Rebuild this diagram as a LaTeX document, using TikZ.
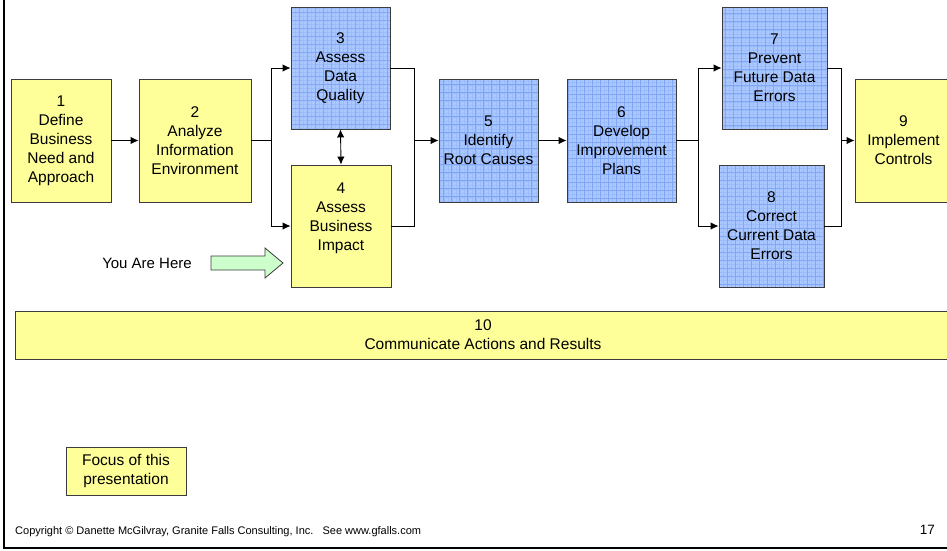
\documentclass[tikz,border=0pt]{standalone}
\usepackage{fontspec}
\setmainfont{Liberation Sans}
\usetikzlibrary{arrows.meta}

\definecolor{boxyellow}{RGB}{255,255,153}
\definecolor{boxblue}{RGB}{170,200,255}
\definecolor{gridmajor}{RGB}{128,166,245}
\definecolor{gridminor}{RGB}{156,189,252}
\definecolor{herefill}{RGB}{204,255,204}
\definecolor{boxline}{RGB}{60,60,60}

\tikzset{
  stepbox/.style={draw=boxline, line width=0.9pt, inner sep=0pt, align=center,
    font=\fontsize{15.5}{19}\selectfont},
  yellowbox/.style={stepbox, fill=boxyellow},
  bluebox/.style={stepbox, fill=boxblue,
    path picture={
      \draw[gridminor, line width=0.3pt, step=4pt]
        (path picture bounding box.south west) grid (path picture bounding box.north east);
      \draw[gridmajor, line width=0.6pt, step=8pt]
        (path picture bounding box.south west) grid (path picture bounding box.north east);
    }},
  link/.style={line width=0.9pt},
  arr/.style={link, -{Latex[length=8pt,width=7.5pt]}},
  dblarr/.style={link, {Latex[length=8pt,width=7.5pt]}-{Latex[length=8pt,width=7.5pt]}},
}

\begin{document}
\begin{tikzpicture}[x=1pt, y=-1pt]
  \useasboundingbox (0,0) rectangle (947,550);
  \fill[white] (0,0) rectangle (947,550);

  % slide frame (left and bottom edges)
  \draw[line width=2.6pt] (4,0) -- (4,548) -- (950,548);

  % process steps
  \node[yellowbox, minimum width=100pt, minimum height=123pt] (n1) at (61,140.5)
    {1\\Define\\Business\\Need and\\Approach};
  \node[yellowbox, minimum width=112pt, minimum height=123pt] (n2) at (195,140.5)
    {2\\Analyze\\Information\\Environment};
  \node[bluebox, minimum width=99pt, minimum height=122pt] (n3) at (340.5,68)
    {3\\Assess\\Data\\Quality};
  \node[yellowbox, minimum width=100pt, minimum height=122pt] (n4) at (341,226)
    {4\\Assess\\Business\\Impact\\\mbox{}};
  \node[bluebox, minimum width=99pt, minimum height=123pt] (n5) at (488.5,140.5)
    {5\\Identify\\Root Causes};
  \node[bluebox, minimum width=109pt, minimum height=123pt] (n6) at (621.5,140.5)
    {6\\Develop\\Improvement\\Plans};
  \node[bluebox, minimum width=105pt, minimum height=122pt] (n7) at (774.5,68)
    {7\\Prevent\\Future Data\\Errors};
  \node[bluebox, minimum width=105pt, minimum height=122pt] (n8) at (771.5,226)
    {8\\Correct\\Current Data\\Errors};
  \node[yellowbox, minimum width=97pt, minimum height=123pt] (n9) at (903.5,140.5)
    {9\\Implement\\Controls};
  \node[yellowbox, minimum width=936pt, minimum height=48pt] (n10) at (483,335)
    {10\\Communicate Actions and Results};

  % connectors
  \draw[arr] (n1) -- (n2);
  \coordinate (s2) at (271,140.5);
  \draw[link] (n2.east) -- (s2);
  \draw[arr] (s2) |- (n3.west);
  \draw[arr] (s2) |- (n4.west);
  \draw[dblarr] (n3.south) -- (n4.north);
  \coordinate (j34) at (414,140.5);
  \draw[link] (n3.east) -| (j34);
  \draw[link] (n4.east) -| (j34);
  \draw[arr] (j34) -- (n5.west);
  \draw[arr] (n5) -- (n6);
  \coordinate (s6) at (698,140.5);
  \draw[link] (n6.east) -- (s6);
  \draw[arr] (s6) |- (n7.west);
  \draw[arr] (s6) |- (n8.west);
  \coordinate (j78) at (841,140.5);
  \draw[link] (n7.east) -| (j78);
  \draw[link] (n8.east) -| (j78);
  \draw[arr] (j78) -- (n9.west);

  % "You Are Here" marker
  \node[font=\fontsize{15}{18}\selectfont] (here) at (147,263) {You Are Here};
  \draw[draw=boxline, line width=0.8pt, fill=herefill, line join=miter]
    (211,256) -- (265,256) -- (265,248) -- (283,263) -- (265,278) -- (265,270) -- (211,270) -- cycle;

  % legend
  \node[yellowbox, minimum width=120pt, minimum height=48pt] (focus) at (126,471)
    {Focus of this\\presentation};

  % footer
  \node[anchor=west, inner sep=0pt, font=\fontsize{11}{13}\selectfont] (copy) at (15,532)
    {Copyright \textcopyright{} Danette McGilvray, Granite Falls Consulting, Inc.\ \ \ See www.gfalls.com};
  \node[anchor=east, inner sep=0pt, font=\fontsize{13.5}{16}\selectfont] (page) at (935,530) {17};
\end{tikzpicture}
\end{document}
